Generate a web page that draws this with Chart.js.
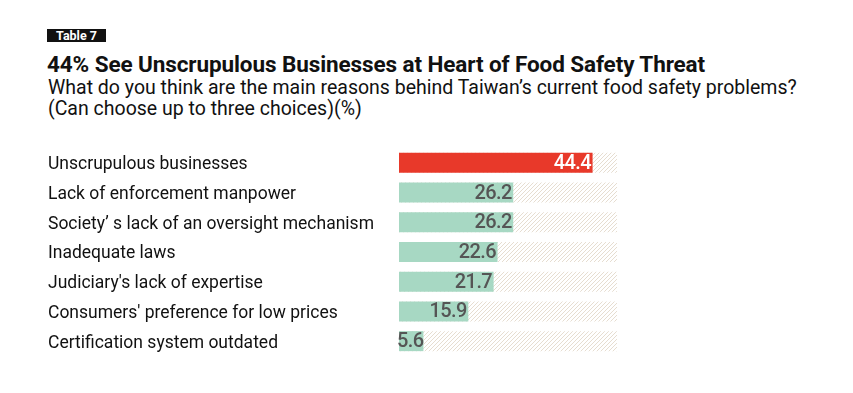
<!DOCTYPE html>
<html>
<head>
<meta charset="utf-8">
<script src="https://cdn.jsdelivr.net/npm/chart.js@4"></script>
<style>
  body { margin: 0; background: #fff; font-family: Roboto, sans-serif; }
  #wrap { position: relative; width: 853px; height: 393px; }
  #tag { position: absolute; left: 47px; top: 29px; height: 13px; width: 59px; background: #111; color: #fff;
         font: bold 12.5px Roboto; line-height: 13px; text-align: center; }
  #title { position: absolute; left: 47px; top: 51px; font: bold 22.5px Roboto; color: #111; white-space: nowrap; letter-spacing: -0.1px; }
  #sub { position: absolute; left: 48px; top: 77px; font: 19.5px Roboto; color: #111; line-height: 21px; white-space: nowrap; }
  canvas { position: absolute; left: 0; top: 0; }
</style>
</head>
<body>
<div id="wrap">
  <div id="tag">Table 7</div>
  <div id="title">44% See Unscrupulous Businesses at Heart of Food Safety Threat</div>
  <div id="sub">What do you think are the main reasons behind Taiwan’s current food safety problems?<br>(Can choose up to three choices)(%)</div>
  <canvas id="canvas" width="853" height="393"></canvas>
</div>
<script>
const categories = [
  'Unscrupulous businesses',
  'Lack of enforcement manpower',
  'Society’ s lack of an oversight mechanism',
  'Inadequate laws',
  "Judiciary's lack of expertise",
  "Consumers' preference for low prices",
  'Certification system outdated'
];
const values = [44.4, 26.2, 26.2, 22.6, 21.7, 15.9, 5.6];
const maxValue = 50;
const backing = categories.map(() => maxValue);

// hatched background pattern
const pc = document.createElement('canvas');
pc.width = 4; pc.height = 4;
const px = pc.getContext('2d');
px.strokeStyle = '#e6ddd0';
px.lineWidth = 1;
px.beginPath();
px.moveTo(0, 4); px.lineTo(4, 0);
px.moveTo(-1, 1); px.lineTo(1, -1);
px.moveTo(3, 5); px.lineTo(5, 3);
px.stroke();
const hatch = px.createPattern(pc, 'repeat');

const valueLabels = {
  id: 'valueLabels',
  afterDatasetsDraw(chart) {
    const ctx = chart.ctx;
    const meta = chart.getDatasetMeta(0);
    ctx.save();
    ctx.font = '500 20px Roboto';
    ctx.letterSpacing = '-0.6px';
    ctx.textAlign = 'right';
    ctx.textBaseline = 'middle';
    meta.data.forEach((bar, i) => {
      ctx.fillStyle = i === 0 ? '#fff' : '#555';
      ctx.fillText(values[i].toFixed(1), bar.x - (i === 6 ? 0 : 1.5), bar.y + 1);
    });
    ctx.restore();
  }
};

new Chart(document.getElementById('canvas'), {
  type: 'bar',
  data: {
    labels: categories,
    datasets: [
      {
        data: values,
        backgroundColor: values.map((v, i) => i === 0 ? '#e8392a' : '#a7d8c3'),
        barPercentage: 0.674,
        categoryPercentage: 1,
        grouped: false,
        order: 1
      },
      {
        data: backing,
        backgroundColor: hatch,
        barPercentage: 0.674,
        categoryPercentage: 1,
        grouped: false,
        order: 2
      }
    ]
  },
  plugins: [valueLabels],
  options: {
    indexAxis: 'y',
    responsive: false,
    animation: false,
    layout: { padding: { left: 48, top: 148, bottom: 37, right: 236 } },
    plugins: { legend: { display: false }, tooltip: { enabled: false } },
    scales: {
      x: { min: 0, max: maxValue, display: false },
      y: {
        grid: { display: false },
        border: { display: false },
        ticks: { color: '#111', font: { size: 17.5, family: 'Roboto' }, crossAlign: 'far', padding: 0, labelOffset: 2 },
        afterFit(scale) { scale.width = 351; }
      }
    }
  }
});
</script>
</body>
</html>
